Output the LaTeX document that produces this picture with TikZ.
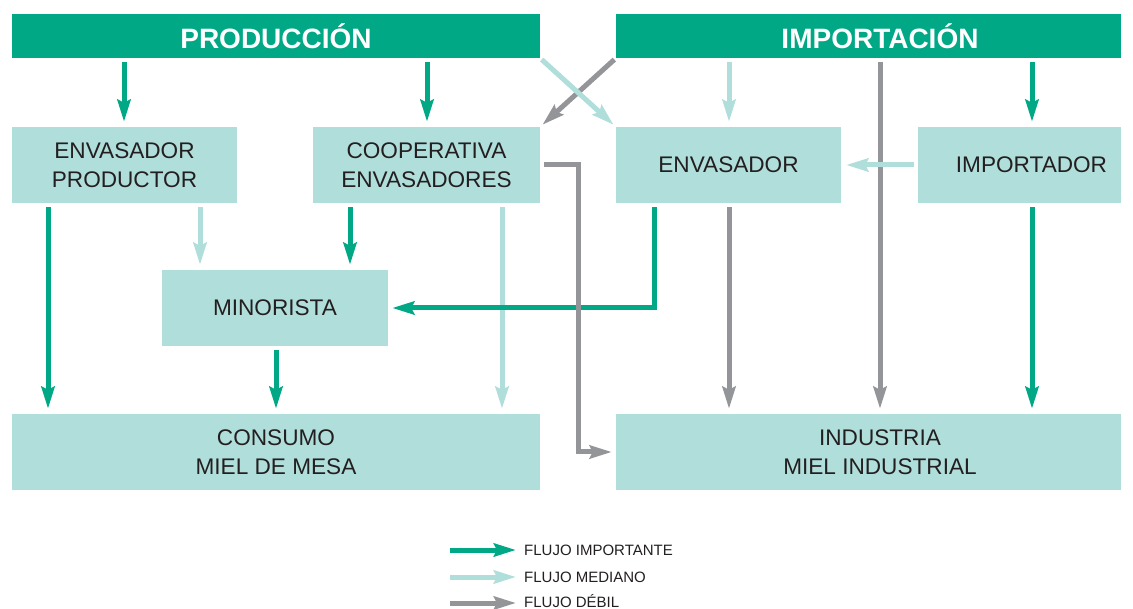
\documentclass[tikz,border=0pt]{standalone}
\usepackage{fontspec}
\setmainfont{Liberation Sans}
\usetikzlibrary{arrows.meta}
\definecolor{dgreen}{HTML}{00A886}
\definecolor{lgreen}{HTML}{B0DEDB}
\definecolor{fgray}{HTML}{939598}
\definecolor{txt}{HTML}{231F20}
\tikzset{
  headfont/.style={font=\fontsize{28}{32}\selectfont\bfseries, text=white},
  boxfont/.style={font=\fontsize{22.6}{29}\selectfont, text=txt, align=center},
  head/.style={rectangle, fill=dgreen, headfont, minimum height=44pt, inner sep=0pt},
  box/.style={rectangle, fill=lgreen, boxfont, minimum height=76pt, inner sep=0pt},
  tipstyle/.style={-{Stealth[length=22pt,width=13pt,inset=3pt]}},
  fimp/.style={tipstyle, draw=dgreen, line width=5pt, shorten <=4pt, shorten >=5pt},
  fmed/.style={tipstyle, draw=lgreen, line width=5pt, shorten <=4pt, shorten >=5pt},
  fdeb/.style={tipstyle, draw=fgray, line width=5pt, shorten <=4pt, shorten >=5pt},
  legtxt/.style={anchor=west, text=txt, inner sep=0pt, font=\fontsize{15}{18}\selectfont},
}
\begin{document}
\begin{tikzpicture}[x=1pt,y=-1pt]
\useasboundingbox (0,0) rectangle (1133,609);
\fill[white] (0,0) rectangle (1133,609);
% headers
\node[head, minimum width=528pt] (prod) at (276,36) {PRODUCCIÓN};
\node[head, minimum width=505pt, label={[headfont, xshift=11.5pt]center:IMPORTACIÓN}] (imp) at (868.5,36) {};
% boxes
\node[box, minimum width=225pt] (envprod) at (124.5,165) {ENVASADOR\\PRODUCTOR};
\node[box, minimum width=227pt] (coop) at (426.5,165) {COOPERATIVA\\ENVASADORES};
\node[box, minimum width=225pt] (env) at (728.5,165) {ENVASADOR};
\node[box, minimum width=203pt, label={[boxfont, xshift=12pt]center:IMPORTADOR}] (impr) at (1019.5,165) {};
\node[box, minimum width=226pt] (mino) at (275,308) {MINORISTA};
\node[box, minimum width=528pt] (cons) at (276,452) {CONSUMO\\MIEL DE MESA};
\node[box, minimum width=505pt, label={[boxfont, xshift=11.5pt]center:INDUSTRIA\\MIEL INDUSTRIAL}] (ind) at (868.5,452) {};
% column coordinates
\coordinate (c48) at (48,0);
\coordinate (c124) at (124,0);
\coordinate (c200) at (200,0);
\coordinate (c276) at (276,0);
\coordinate (c350) at (350,0);
\coordinate (c427) at (427,0);
\coordinate (c502) at (502,0);
\coordinate (c578) at (578,0);
\coordinate (c654) at (654,0);
\coordinate (c729) at (729,0);
\coordinate (c880) at (880,0);
\coordinate (c1032) at (1032,0);
% medium flows
\draw[fdeb, shorten <=2pt, shorten >=3pt] (imp.south west) -- (coop.north east);
\draw[fmed, shorten <=2pt, shorten >=3pt] (prod.south east) -- (env.north west);
\draw[fmed] (imp.south -| c729) -- (env.north -| c729);
\draw[fmed] (envprod.south -| c200) -- (mino.north -| c200);
\draw[fmed] (coop.south -| c502) -- (cons.north -| c502);
% important flows
\draw[fimp] (prod.south -| c124) -- (envprod.north -| c124);
\draw[fimp] (prod.south -| c427) -- (coop.north -| c427);
\draw[fimp] (imp.south -| c1032) -- (impr.north -| c1032);
\draw[fimp] (envprod.south -| c48) -- (cons.north -| c48);
\draw[fimp] (coop.south -| c350) -- (mino.north -| c350);
\draw[fimp] (mino.south -| c276) -- (cons.north -| c276);
\draw[fimp] (impr.south -| c1032) -- (ind.north -| c1032);
\draw[fimp, shorten >=4pt] (env.south -| c654) -- (c654 |- mino.east) -- (mino.east);
% weak flows
\draw[fdeb] (imp.south -| c880) -- (ind.north -| c880);
\draw[fdeb] (env.south -| c729) -- (ind.north -| c729);
\draw[fdeb, shorten <=0pt, shorten >=4pt] ([xshift=4pt]coop.east) -- (c578 |- coop.east) -- (c578 |- ind.west) -- (ind.west);
\draw[fmed] (impr.west) -- (env.east);
% legend
\coordinate (l1a) at (450,550); \coordinate (l1b) at (516,550);
\coordinate (l2a) at (450,577); \coordinate (l2b) at (516,577);
\coordinate (l3a) at (450,603); \coordinate (l3b) at (516,603);
\draw[tipstyle, draw=dgreen, line width=5pt] (l1a) -- (l1b);
\draw[tipstyle, draw=lgreen, line width=5pt] (l2a) -- (l2b);
\draw[tipstyle, draw=fgray, line width=5pt] (l3a) -- (l3b);
\node[legtxt] (t1) at (524,550) {FLUJO IMPORTANTE};
\node[legtxt] (t2) at (524,577) {FLUJO MEDIANO};
\node[legtxt] (t3) at (524,601.5) {FLUJO DÉBIL};
\end{tikzpicture}
\end{document}
